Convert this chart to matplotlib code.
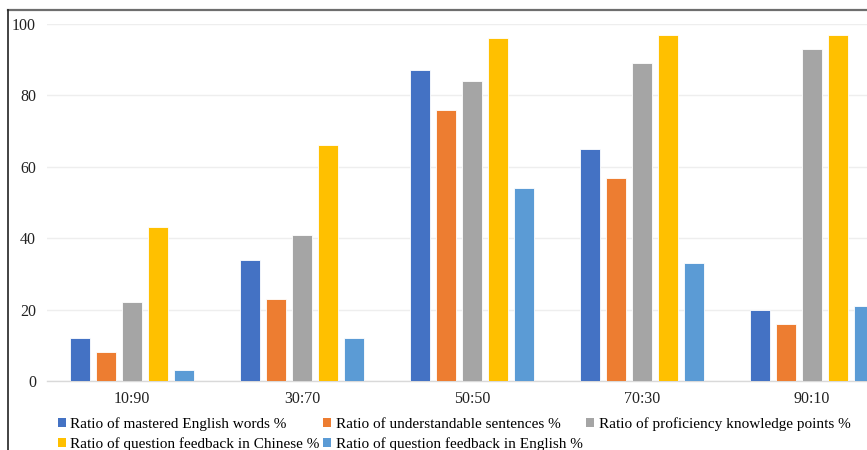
import matplotlib
matplotlib.use("Agg")
import matplotlib.pyplot as plt
from matplotlib.patches import Patch
from matplotlib.lines import Line2D
import numpy as np

plt.rcParams['font.family'] = ['Liberation Serif', 'DejaVu Serif']

categories = ["10:90", "30:70", "50:50", "70:30", "90:10"]
series_names = [
    "Ratio of mastered English words %",
    "Ratio of understandable sentences %",
    "Ratio of proficiency knowledge points %",
    "Ratio of question feedback in Chinese %",
    "Ratio of question feedback in English %",
]
mastered_words = [12, 34, 87, 65, 20]
understandable_sentences = [8, 23, 76, 57, 16]
proficiency_points = [22, 41, 84, 89, 93]
feedback_chinese = [43, 66, 96, 97, 97]
feedback_english = [3, 12, 54, 33, 21]
yticks = [0, 20, 40, 60, 80, 100]

series = [mastered_words, understandable_sentences, proficiency_points,
          feedback_chinese, feedback_english]
colors = ["#4472C4", "#ED7D31", "#A5A5A5", "#FFC000", "#5B9BD5"]

W, H = 867, 450
fig = plt.figure(figsize=(W / 100, H / 100), dpi=100)
ax = fig.add_axes([47 / W, (H - 381) / H, 850 / W, 357 / H])

x = np.arange(len(categories))
pitch = 0.153
bw = 0.118
for i, (vals, c) in enumerate(zip(series, colors)):
    ax.bar(x + (i - 2) * pitch, vals, width=bw, color=c,
           edgecolor="white", linewidth=0.6, zorder=3)

ax.set_xlim(-0.5, len(categories) - 0.5)
ax.set_ylim(0, 100)
ax.set_yticks(yticks)
ax.set_xticks(x)
ax.set_xticklabels(categories)
ax.grid(axis="y", color="#eeeeee", linewidth=1.0, zorder=0)
for s in ["top", "right", "left"]:
    ax.spines[s].set_visible(False)
ax.spines["bottom"].set_color("#d9d9d9")
ax.spines["bottom"].set_linewidth(1.0)
ax.tick_params(axis="both", length=0, labelsize=11.5, colors="#222222")
ax.tick_params(axis="y", pad=8)
ax.tick_params(axis="x", pad=7)

# legend: three on the first row, two on the second
handles = [Patch(facecolor=c, edgecolor="none") for c in colors]
order = [0, 3, 1, 4, 2]
fig.legend([handles[i] for i in order], [series_names[i] for i in order],
           ncol=3, loc="upper left", bbox_to_anchor=(58 / W, 1 - 417 / H),
           frameon=False, fontsize=11, handlelength=0.5, handleheight=0.5,
           handletextpad=0.3, columnspacing=0.25, labelspacing=0.42,
           borderaxespad=0, borderpad=0)

# outer chart border
fig.add_artist(Line2D([8 / W, 1.0], [1 - 9.5 / H, 1 - 9.5 / H],
                      transform=fig.transFigure, color="#6e6e6e", linewidth=1.6))
fig.add_artist(Line2D([8 / W, 8 / W], [0, 1 - 9.5 / H],
                      transform=fig.transFigure, color="#222222", linewidth=1.2))

fig.savefig("out.png", dpi=100)
